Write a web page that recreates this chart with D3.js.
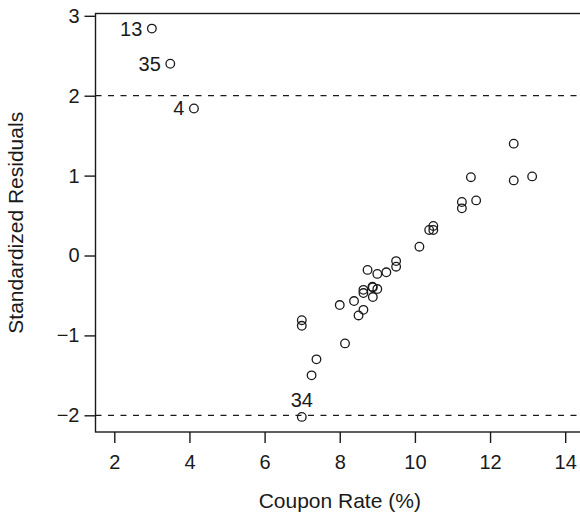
<!DOCTYPE html>
<html>
<head>
<meta charset="utf-8">
<script src="https://cdn.jsdelivr.net/npm/d3@7"></script>
<style>
  html, body { margin: 0; padding: 0; background: #fff; }
  svg { display: block; }
  text { font-family: "Liberation Sans", Arial, Helvetica, sans-serif; fill: #1a1a1a; }
</style>
</head>
<body>
<svg id="chart" width="580" height="513"></svg>
<script>
// Coupon rate (%) of each bond
const couponRate = [
  3.00, 3.49, 4.12, 6.99, 7.25, 7.38, 6.99, 6.99, 8.14, 8.00,
  8.38, 8.50, 8.63, 8.63, 8.63, 8.87, 9.00, 8.88, 8.74, 9.00,
  9.24, 9.50, 9.50, 10.12, 10.38, 10.49, 10.49, 11.25, 11.25, 11.63,
  11.49, 12.63, 12.63, 13.12, 8.88
];
// Standardized residuals
const stdResidual = [
  2.84, 2.40, 1.84, -2.02, -1.50, -1.30, -0.81, -0.88, -1.10, -0.62,
  -0.57, -0.75, -0.68, -0.43, -0.47, -0.39, -0.42, -0.52, -0.18, -0.23,
  -0.21, -0.07, -0.14, 0.11, 0.32, 0.37, 0.32, 0.67, 0.59, 0.69,
  0.98, 1.40, 0.94, 0.99, -0.40
];
// Labelled observations: index into arrays, label text, side
const pointLabels = [
  { i: 0, text: "13", side: "left" },
  { i: 1, text: "35", side: "left" },
  { i: 2, text: "4",  side: "left" },
  { i: 3, text: "34", side: "top" }
];
const xTicks = [2, 4, 6, 8, 10, 12, 14];
const yTicks = [-2, -1, 0, 1, 2, 3];
const refLines = [-2, 2];

const svg = d3.select("#chart");
const L = 95.5, R = 584, T = 13.5, B = 432;

const x = d3.scaleLinear().domain([1.5, 14.5]).range([L, R]);
const y = d3.scaleLinear().domain([-2.209, 3.029]).range([B, T]);

const fmt = d => (d < 0 ? "\u2212" + Math.abs(d) : String(d));

// reference dashed lines
svg.selectAll("line.ref").data(refLines).enter().append("line")
  .attr("class", "ref")
  .attr("x1", L).attr("x2", R)
  .attr("y1", d => y(d)).attr("y2", d => y(d))
  .attr("stroke", "#1a1a1a").attr("stroke-width", 1.2)
  .attr("stroke-dasharray", "6,6.5");

// box
svg.append("rect")
  .attr("x", L).attr("y", T).attr("width", R - L).attr("height", B - T)
  .attr("fill", "none").attr("stroke", "#1a1a1a").attr("stroke-width", 1.4);

// x axis
const xAxis = d3.axisBottom(x).tickValues(xTicks).tickSize(11).tickPadding(12).tickFormat(fmt);
const gx = svg.append("g").attr("transform", `translate(0,${B})`).call(xAxis);
gx.select(".domain").remove();
gx.selectAll(".tick line").attr("stroke", "#1a1a1a").attr("stroke-width", 1.4);
gx.selectAll(".tick text").attr("font-size", 20).attr("fill", "#1a1a1a")
  .attr("font-family", "Liberation Sans, Arial, sans-serif");

// y axis
const yAxis = d3.axisLeft(y).tickValues(yTicks).tickSize(11).tickPadding(5).tickFormat(fmt);
const gy = svg.append("g").attr("transform", `translate(${L},0)`).call(yAxis);
gy.select(".domain").remove();
gy.selectAll(".tick line").attr("stroke", "#1a1a1a").attr("stroke-width", 1.4);
gy.selectAll(".tick text").attr("font-size", 20).attr("fill", "#1a1a1a")
  .attr("font-family", "Liberation Sans, Arial, sans-serif");

// points
const pts = couponRate.map((c, i) => ({ c, r: stdResidual[i] }));
svg.selectAll("circle.pt").data(pts).enter().append("circle")
  .attr("class", "pt")
  .attr("cx", d => x(d.c)).attr("cy", d => y(d.r)).attr("r", 4.3)
  .attr("fill", "none").attr("stroke", "#1a1a1a").attr("stroke-width", 1.3);

// point labels
svg.selectAll("text.lbl").data(pointLabels).enter().append("text")
  .attr("class", "lbl")
  .attr("x", d => d.side === "left" ? x(couponRate[d.i]) - 9.5 : x(couponRate[d.i]))
  .attr("y", d => d.side === "left" ? y(stdResidual[d.i]) + 7 : y(stdResidual[d.i]) - 10)
  .attr("text-anchor", d => d.side === "left" ? "end" : "middle")
  .attr("font-size", 20)
  .text(d => d.text);

// axis titles
svg.append("text")
  .attr("x", (L + R) / 2).attr("y", 508)
  .attr("text-anchor", "middle").attr("font-size", 21)
  .text("Coupon Rate (%)");

svg.append("text")
  .attr("transform", `translate(23,${(T + B) / 2}) rotate(-90)`)
  .attr("text-anchor", "middle").attr("font-size", 21)
  .text("Standardized Residuals");
</script>
</body>
</html>
